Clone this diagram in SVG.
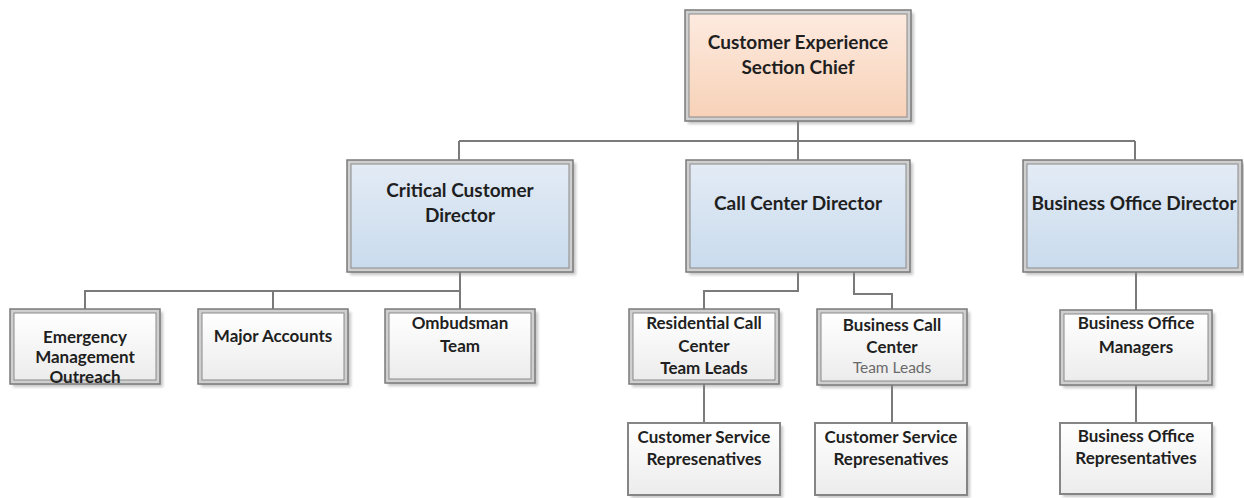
<svg xmlns="http://www.w3.org/2000/svg" width="1244" height="498" viewBox="0 0 1244 498">
<defs>
<linearGradient id="gPeach" x1="0" y1="0" x2="0" y2="1"><stop offset="0" stop-color="#fdeadf"/><stop offset="1" stop-color="#f7d2b8"/></linearGradient>
<linearGradient id="gBlue" x1="0" y1="0" x2="0" y2="1"><stop offset="0" stop-color="#e3ebf5"/><stop offset="1" stop-color="#c9dbed"/></linearGradient>
<linearGradient id="gGray" x1="0" y1="0" x2="0" y2="1"><stop offset="0" stop-color="#ffffff"/><stop offset="1" stop-color="#ececec"/></linearGradient>
<filter id="blur" x="-10%" y="-10%" width="130%" height="130%"><feGaussianBlur stdDeviation="1.5"/></filter>
</defs>
<style>
.sh{fill:#8c8c8c;opacity:0.5;filter:url(#blur)}
.outer{fill:#cfcfcf;stroke:#7a7a7a;stroke-width:1.5}
.inner{stroke:#8a8a8a;stroke-width:1}
.peach{fill:url(#gPeach)}
.blue{fill:url(#gBlue)}
.gray{fill:url(#gGray)}
.single{fill:url(#gGray);stroke:#858585;stroke-width:2}
.conn{fill:none;stroke:#7a7a7a;stroke-width:2}
text{font-family:"Lato","Liberation Sans",sans-serif;font-weight:bold;fill:#1f1f1f;text-anchor:middle}
.t19{font-size:19px}
.t17{font-size:17px}
.light{font-weight:normal;fill:#6a6a6a;font-size:15.5px}
</style>
<g id="connectors">
<path class="conn" d="M798 121V141M459 141H1135M459 141V160M798 141V160M1135 141V160"/>
<path class="conn" d="M460 272V291H85V309M273 291V309M460 291V309"/>
<path class="conn" d="M798 272V291H704V309M854 272V294H892V309"/>
<path class="conn" d="M1136 272V310"/>
<path class="conn" d="M704 384V423M892 385V423M1136 385V423"/>
</g>
<g id="chief">
<rect class="sh" x="688" y="13" width="226" height="111"/>
<rect class="outer" x="685" y="10" width="226" height="111"/>
<rect class="inner peach" x="689" y="14" width="218" height="103"/>
<text class="t19" x="798" y="49">Customer Experience</text>
<text class="t19" x="798" y="74">Section Chief</text>
</g>
<g id="critical">
<rect class="sh" x="350" y="163" width="226" height="112"/>
<rect class="outer" x="347" y="160" width="226" height="112"/>
<rect class="inner blue" x="351" y="164" width="218" height="104"/>
<text class="t19" x="460" y="197">Critical Customer</text>
<text class="t19" x="460" y="222">Director</text>
</g>
<g id="callcenter">
<rect class="sh" x="689" y="163" width="224" height="112"/>
<rect class="outer" x="686" y="160" width="224" height="112"/>
<rect class="inner blue" x="690" y="164" width="216" height="104"/>
<text class="t19" x="798" y="210">Call Center Director</text>
</g>
<g id="bizoffice">
<rect class="sh" x="1026" y="163" width="220" height="112"/>
<rect class="outer" x="1023" y="160" width="219" height="112"/>
<rect class="inner blue" x="1027" y="164" width="211" height="104"/>
<text class="t19" x="1134" y="210">Business Office Director</text>
</g>
<g id="emergency">
<rect class="sh" x="13" y="312" width="150" height="75"/>
<rect class="outer" x="10" y="309" width="150" height="75"/>
<rect class="inner gray" x="14" y="313" width="142" height="67"/>
<text class="t17" x="85" y="343">Emergency</text>
<text class="t17" x="85" y="363">Management</text>
<text class="t17" x="85" y="383">Outreach</text>
</g>
<g id="major">
<rect class="sh" x="201" y="312" width="150" height="75"/>
<rect class="outer" x="198" y="309" width="150" height="75"/>
<rect class="inner gray" x="202" y="313" width="142" height="67"/>
<text class="t17" x="273" y="342">Major Accounts</text>
</g>
<g id="ombudsman">
<rect class="sh" x="388" y="312" width="150" height="74"/>
<rect class="outer" x="385" y="309" width="150" height="74"/>
<rect class="inner gray" x="389" y="313" width="142" height="66"/>
<text class="t17" x="460" y="329">Ombudsman</text>
<text class="t17" x="460" y="352">Team</text>
</g>
<g id="residential">
<rect class="sh" x="632" y="312" width="150" height="75"/>
<rect class="outer" x="629" y="309" width="150" height="75"/>
<rect class="inner gray" x="633" y="313" width="142" height="67"/>
<text class="t17" x="704" y="329">Residential Call</text>
<text class="t17" x="704" y="352">Center</text>
<text class="t17" x="704" y="374">Team Leads</text>
</g>
<g id="bizcall">
<rect class="sh" x="820" y="312" width="150" height="76"/>
<rect class="outer" x="817" y="309" width="150" height="76"/>
<rect class="inner gray" x="821" y="313" width="142" height="68"/>
<text class="t17" x="892" y="331">Business Call</text>
<text class="t17" x="892" y="353">Center</text>
<text class="light" x="892" y="373">Team Leads</text>
</g>
<g id="bomgr">
<rect class="sh" x="1063" y="313" width="152" height="75"/>
<rect class="outer" x="1060" y="310" width="152" height="75"/>
<rect class="inner gray" x="1064" y="314" width="144" height="67"/>
<text class="t17" x="1136" y="329">Business Office</text>
<text class="t17" x="1136" y="353">Managers</text>
</g>
<g id="csr1">
<rect class="sh" x="631" y="426" width="152" height="72"/>
<rect class="single" x="628" y="423" width="152" height="72"/>
<text class="t17" x="704" y="443">Customer Service</text>
<text class="t17" x="704" y="465">Represenatives</text>
</g>
<g id="csr2">
<rect class="sh" x="818" y="426" width="152" height="72"/>
<rect class="single" x="815" y="423" width="152" height="72"/>
<text class="t17" x="891" y="443">Customer Service</text>
<text class="t17" x="891" y="465">Represenatives</text>
</g>
<g id="borep">
<rect class="sh" x="1063" y="426" width="152" height="71"/>
<rect class="single" x="1060" y="423" width="152" height="71"/>
<text class="t17" x="1136" y="442">Business Office</text>
<text class="t17" x="1136" y="464">Representatives</text>
</g>
</svg>
